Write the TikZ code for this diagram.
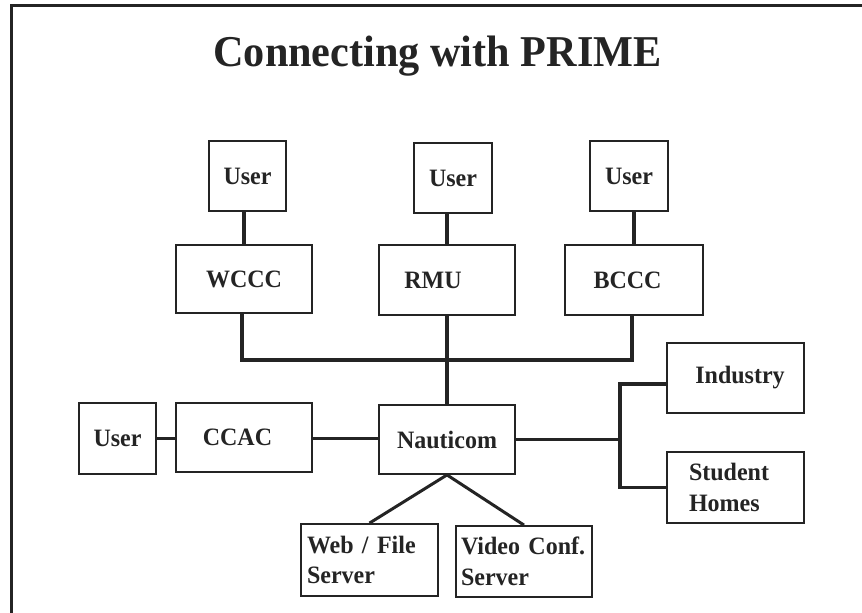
\documentclass[tikz,border=0pt]{standalone}
\usepackage{fontspec}
\setmainfont{Liberation Serif}[FakeStretch=0.96]
\definecolor{ink}{HTML}{242424}
\begin{document}
\begin{tikzpicture}[x=1pt,y=-1pt,
  box/.style={draw=ink, line width=1.8pt, inner sep=0pt, text=ink,
    font=\bfseries\fontsize{25}{30.5}\selectfont},
  link/.style={draw=ink, line width=3.6pt},
  diag/.style={draw=ink, line width=3pt}]
\useasboundingbox (0,0) rectangle (862,613);
% frame
\draw[draw=ink, line width=3pt] (11,615) -- (11,5) -- (864,5);
% title
\node[anchor=base, text=ink, font=\bfseries\fontsize{44}{50}\selectfont] (title) at (437.5,66.7) {Connecting with PRIME};
% top row users
\node[box, minimum width=77pt, minimum height=70pt] (u1) at (247.5,176) {User};
\node[box, minimum width=78pt, minimum height=70pt] (u2) at (453,178) {User};
\node[box, minimum width=78pt, minimum height=70pt] (u3) at (629,176) {User};
% colleges
\node[box, minimum width=136pt, minimum height=68pt] (wccc) at (244,279) {WCCC};
\node[box, minimum width=136pt, minimum height=70pt] (rmu) at (447,280) {RMU\hspace*{28pt}};
\node[box, minimum width=138pt, minimum height=70pt] (bccc) at (634,280) {BCCC\hspace*{13pt}};
% middle row
\node[box, minimum width=77pt, minimum height=71pt] (u4) at (117.5,438.5) {User};
\node[box, minimum width=136pt, minimum height=69pt] (ccac) at (244,437.5) {CCAC\hspace*{13pt}};
\node[box, minimum width=136pt, minimum height=69pt] (naut) at (447,439.5) {Nauticom};
\node[box, minimum width=137pt, minimum height=70pt] (ind) at (735.5,378) {\hspace*{9pt}Industry};
\node[box, minimum width=137pt, minimum height=71pt, text width=93pt, inner xsep=22pt, align=left] (stu) at (735.5,487.5) {Student\\Homes};
% servers
\node[box, minimum width=137pt, minimum height=72pt, text width=125pt, inner xsep=6pt, align=left] (web) at (369.5,560) {Web / File\\Server};
\node[box, minimum width=136pt, minimum height=71pt, text width=126pt, inner xsep=5pt, align=left] (vid) at (524,561.5) {Video Conf.\\Server};
% connectors
\coordinate (bus) at (447,360);
\coordinate (split) at (620,439.5);
\draw[link] (wccc.north) -- (wccc.north |- u1.south);
\draw[link] (rmu.north) -- (rmu.north |- u2.south);
\draw[link] (bccc.north) -- (bccc.north |- u3.south);
\draw[link] ([xshift=-2pt]wccc.south) -- ([xshift=-2pt]wccc.south |- bus) -- ([xshift=-2pt]bccc.south |- bus) -- ([xshift=-2pt]bccc.south);
\draw[link] (rmu.south) -- (naut.north);
\draw[link] (u4.east) -- (u4.east -| ccac.west);
\draw[link] ([yshift=-1pt]ccac.east) -- ([yshift=-1pt]ccac.east -| naut.west);
\draw[link] (naut.east) -- (split);
\draw[link] ([yshift=-6pt]ind.west) -| (stu.west -| split) -- (stu.west);
\draw[diag] (naut.south) -- (web.north);
\draw[diag] (naut.south) -- (vid.north);
\end{tikzpicture}
\end{document}
